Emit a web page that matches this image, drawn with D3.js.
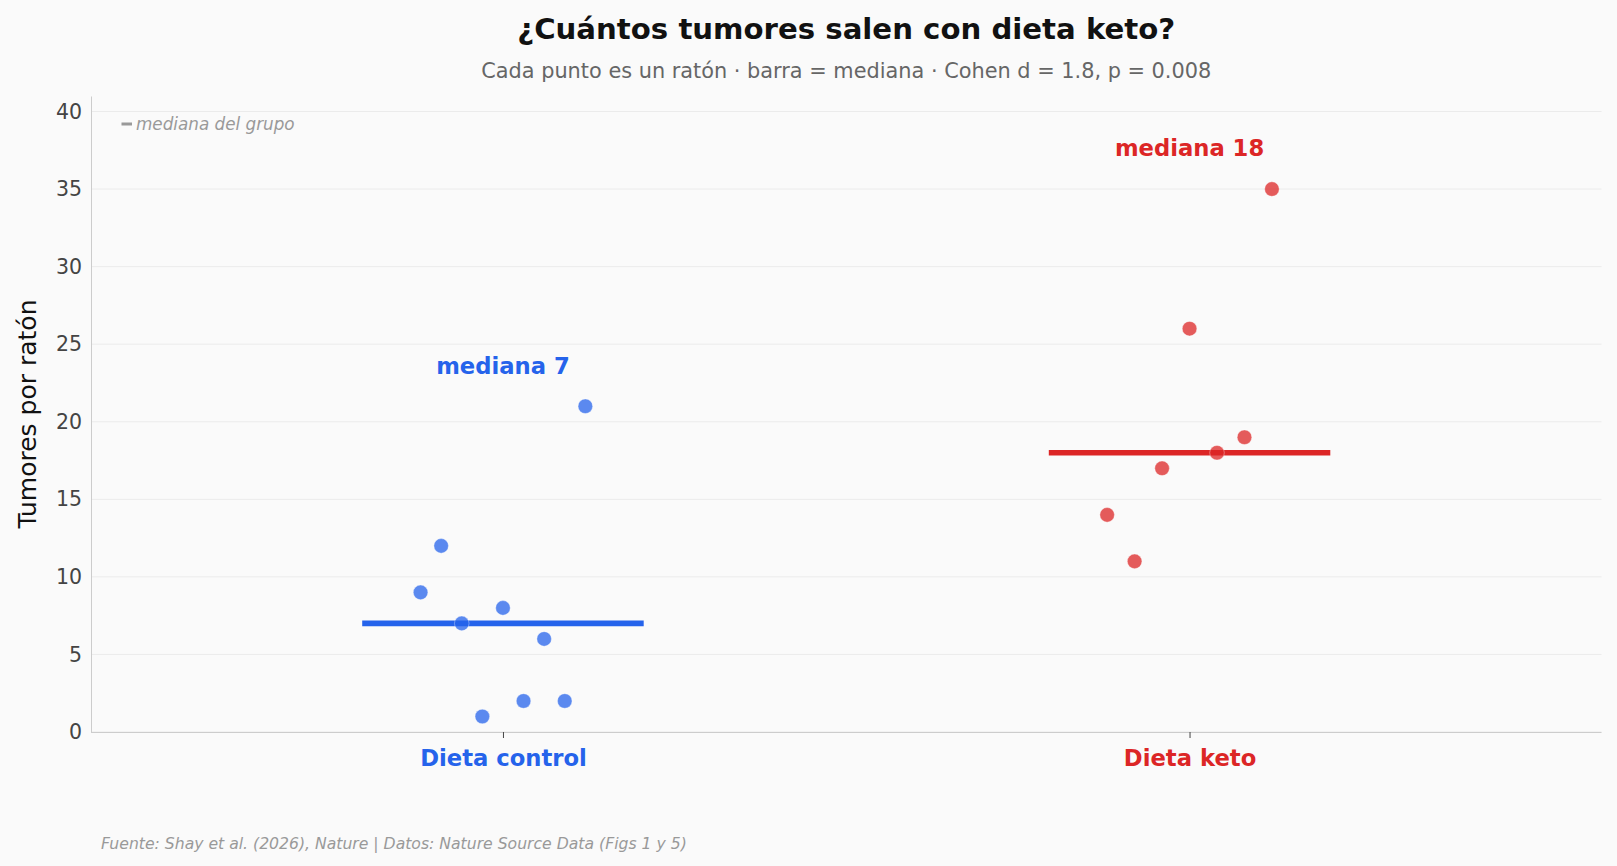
<!DOCTYPE html>
<html lang="es">
<head>
<meta charset="UTF-8">
<title>¿Cuántos tumores salen con dieta keto?</title>
<script src="https://d3js.org/d3.v7.min.js"></script>
<style>
  body {
    margin: 0;
    background: #fafafa;
    font-family: "DejaVu Sans", sans-serif;
  }
  svg { display: block; }
</style>
</head>
<body>
<div id="chart"></div>
<script>

// ------ data ------
const groups = ["Dieta control", "Dieta keto"];
const groupColors = ["#2563eb", "#dc2626"];
const controlValues = [9, 12, 7, 1, 8, 2, 6, 2, 21];
const ketoValues = [14, 11, 17, 26, 18, 19, 35];
const yTicks = [0, 5, 10, 15, 20, 25, 30, 35, 40];

const series = [controlValues, ketoValues];

// ------ layout ------
const width = 1617, height = 866;
const margin = {left: 91, right: 15.5, top: 96, bottom: 134};

const x = d3.scaleLinear()
    .domain([-0.6, 1.6])
    .range([margin.left, width - margin.right]);

const y = d3.scaleLinear()
    .domain([0, 41])
    .range([height - margin.bottom, margin.top]);

const axesMid = (x.range()[0] + x.range()[1]) / 2;

const svg = d3.select("#chart")
  .append("svg")
    .attr("width", width)
    .attr("height", height)
    .style("background", "#fafafa");

// grid
svg.append("g")
  .selectAll("line")
  .data(yTicks)
  .join("line")
    .attr("x1", x.range()[0])
    .attr("x2", x.range()[1])
    .attr("y1", d => y(d))
    .attr("y2", d => y(d))
    .attr("stroke", "#ebebeb")
    .attr("stroke-width", 1);

// y axis
const yAxis = svg.append("g")
    .attr("transform", `translate(${margin.left},0)`)
    .call(d3.axisLeft(y).tickValues(yTicks).tickSize(0).tickPadding(9));
yAxis.select(".domain").attr("stroke", "#cccccc");
yAxis.selectAll("text")
    .attr("font-family", "DejaVu Sans")
    .attr("font-size", "20.5px")
    .attr("fill", "#444");

// x axis
const xAxis = svg.append("g")
    .attr("transform", `translate(0,${y(0)})`)
    .call(d3.axisBottom(x).tickValues([0, 1]).tickSize(6).tickSizeOuter(0).tickPadding(8)
      .tickFormat(i => groups[i]));
xAxis.select(".domain").attr("stroke", "#cccccc").attr("d", `M${x.range()[0]},0.5H${x.range()[1]}`);
xAxis.selectAll(".tick line").attr("stroke", "#444");
xAxis.selectAll("text")
    .attr("font-family", "DejaVu Sans")
    .attr("font-size", "22.7px")
    .attr("font-weight", "bold")
    .attr("dy", "0.9em")
    .attr("fill", (d, i) => groupColors[i]);

// y label
svg.append("text")
    .attr("transform", `translate(27,${(y(0) + y(41)) / 2}) rotate(-90)`)
    .attr("text-anchor", "middle")
    .attr("dominant-baseline", "central")
    .attr("font-size", "25px")
    .attr("fill", "#111")
    .text("Tumores por ratón");

// median bars, points, labels
series.forEach((vals, g) => {
  const med = d3.median(vals);
  const color = groupColors[g];

  svg.append("line")
      .attr("x1", x(g - 0.205))
      .attr("x2", x(g + 0.205))
      .attr("y1", y(med))
      .attr("y2", y(med))
      .attr("stroke", color)
      .attr("stroke-width", 5.6);

  const n = vals.length;
  svg.append("g")
    .selectAll("circle")
    .data(vals)
    .join("circle")
      .attr("cx", (d, i) => x(g - 0.12 + 0.24 * i / (n - 1)))
      .attr("cy", d => y(d))
      .attr("r", 7.3)
      .attr("fill", color)
      .attr("fill-opacity", 0.75)
      .attr("stroke", "#fff")
      .attr("stroke-opacity", 0.6)
      .attr("stroke-width", 0.6);

  svg.append("text")
      .attr("x", x(g))
      .attr("y", y(d3.max(vals) + 2.5) - 1.8)
      .attr("text-anchor", "middle")
      .attr("dominant-baseline", "central")
      .attr("font-size", "22.7px")
      .attr("font-weight", "bold")
      .attr("fill", color)
      .text(`mediana ${med}`);
});

// legend
svg.append("line")
    .attr("x1", 121.5).attr("x2", 132)
    .attr("y1", 124).attr("y2", 124)
    .attr("stroke", "#999").attr("stroke-width", 3);
svg.append("text")
    .attr("x", 136)
    .attr("y", 124)
    .attr("dominant-baseline", "central")
    .attr("font-size", "16.8px")
    .attr("font-style", "italic")
    .attr("fill", "#999")
    .text("mediana del grupo");

// title + subtitle (centred over the axes)
svg.append("text")
    .attr("x", axesMid)
    .attr("y", 29)
    .attr("text-anchor", "middle")
    .attr("dominant-baseline", "central")
    .attr("font-size", "29.2px")
    .attr("font-weight", "bold")
    .attr("fill", "#111")
    .text("¿Cuántos tumores salen con dieta keto?");

svg.append("text")
    .attr("x", axesMid)
    .attr("y", 71)
    .attr("text-anchor", "middle")
    .attr("dominant-baseline", "central")
    .attr("font-size", "20.85px")
    .attr("fill", "#666")
    .text("Cada punto es un ratón · barra = mediana · Cohen d = 1.8, p = 0.008");

// footer
svg.append("text")
    .attr("x", 101)
    .attr("y", 843.5)
    .attr("dominant-baseline", "central")
    .attr("font-size", "15.65px")
    .attr("font-style", "italic")
    .attr("fill", "#999")
    .text("Fuente: Shay et al. (2026), Nature | Datos: Nature Source Data (Figs 1 y 5)");

</script>
</body>
</html>
